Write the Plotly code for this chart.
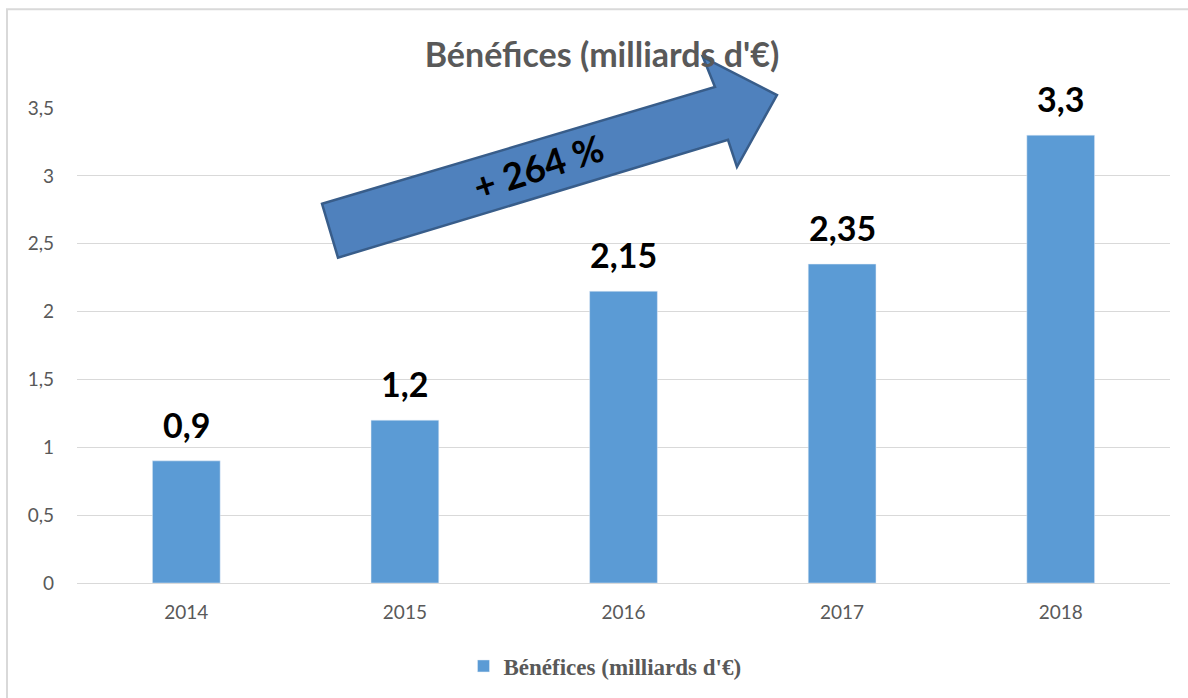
import plotly.graph_objects as go

years = ["2014", "2015", "2016", "2017", "2018"]
benefices = [0.9, 1.2, 2.15, 2.35, 3.3]
labels = ["0,9", "1,2", "2,15", "2,35", "3,3"]
y_ticks = [0, 0.5, 1, 1.5, 2, 2.5, 3, 3.5]
y_tick_text = ["0", "0,5", "1", "1,5", "2", "2,5", "3", "3,5"]
series_name = "Bénéfices (milliards d'€)"
arrow_label = "+ 264 %"

W, H = 1188, 698
L, R, T, B = 77, 1170, 108, 584


def px(x):
    return (x - L) / (R - L)


def py(y):
    return (B - y) / (B - T)


fig = go.Figure()
fig.add_trace(go.Bar(
    x=years, y=benefices, name=series_name,
    marker=dict(color="#5b9bd5"),
    cliponaxis=False,
))

# data labels: category index on the category axis
for i, (v, lab) in enumerate(zip(benefices, labels)):
    fig.add_annotation(x=i, y=v, text=lab, showarrow=False, yanchor="bottom", yshift=14,
                       font=dict(family="Lato", size=34, color="#000000", weight="bold"))

# arrow polygon (pixel coords -> paper)
pts = [(322, 204), (715, 87), (703, 57), (777, 95), (737, 167), (728, 140), (338, 258)]
path = "M " + " L ".join(f"{px(x):.4f},{py(y):.4f}" for x, y in pts) + " Z"
fig.add_shape(type="path", xref="paper", yref="paper", path=path,
              fillcolor="#4f81bd", line=dict(color="#385d8a", width=2.5))

fig.add_annotation(text=arrow_label, xref="paper", yref="paper",
                   x=px(538), y=py(122), showarrow=False, textangle=-18,
                   font=dict(family="Lato", size=37, color="#000000", weight="bold"))

# outer border
fig.add_shape(type="rect", xref="paper", yref="paper",
              x0=px(7), y0=py(9), x1=px(1200), y1=py(710),
              line=dict(color="#d9d9d9", width=2), fillcolor="rgba(0,0,0,0)", layer="below")

fig.update_layout(
    width=W, height=H,
    margin=dict(l=L, r=W - R, t=T, b=H - B),
    paper_bgcolor="white", plot_bgcolor="white",
    separators=", ",
    bargap=0.69,
    title=dict(text=series_name, x=602 / W, xanchor="center",
               y=1 - 55 / H, yanchor="middle", yref="container",
               font=dict(family="Lato", size=34, color="#595959", weight="bold")),
    showlegend=True,
    legend=dict(orientation="h", x=px(605), xanchor="center", y=py(666), yanchor="middle",
                font=dict(family="Liberation Serif", size=23, color="#595959", weight="bold")),
    xaxis=dict(type="category", range=[-0.5, len(years) - 0.5], showline=False, ticks="",
               ticklabelstandoff=16,
               tickfont=dict(family="Lato", size=19, color="#595959")),
    yaxis=dict(range=[0, 3.5], tickvals=y_ticks, ticktext=y_tick_text,
               showgrid=True, gridcolor="#d9d9d9", gridwidth=1.3,
               zeroline=True, zerolinecolor="#d9d9d9", zerolinewidth=1.3,
               ticks="", ticklabelstandoff=22,
               tickfont=dict(family="Lato", size=19, color="#595959")),
)

fig.write_html("out.html", config={"displayModeBar": False},
               post_script="document.body.style.margin='0px';")
